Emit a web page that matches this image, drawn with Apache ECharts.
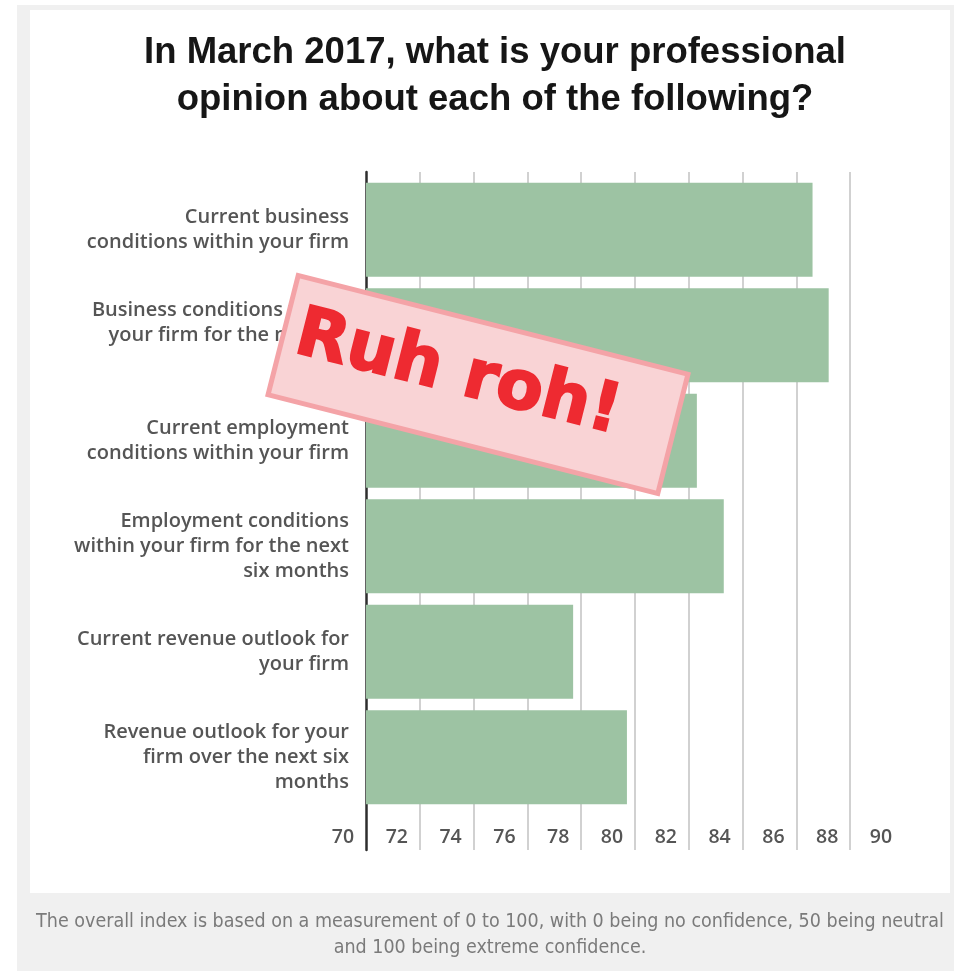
<!DOCTYPE html>
<html>
<head>
<meta charset="utf-8">
<script src="https://cdn.jsdelivr.net/npm/echarts@6/dist/echarts.min.js"></script>
<style>
  html, body { margin: 0; padding: 0; background: #ffffff; }
  #chart { width: 954px; height: 971px; }
</style>
</head>
<body>
<div id="chart"></div>
<script>
// Survey items (top to bottom) and their confidence index scores
const categories = [
  'Current business\nconditions within your firm',
  'Business conditions within\nyour firm for the next six\nmonths',
  'Current employment\nconditions within your firm',
  'Employment conditions\nwithin your firm for the next\nsix months',
  'Current revenue outlook for\nyour firm',
  'Revenue outlook for your\nfirm over the next six\nmonths'
];
const scores = [86.6, 87.2, 82.3, 83.3, 77.7, 79.7];

// Horizontal scale
const axisMin = 70;
const axisMax = 90;
const axisStep = 2;

const titleText = 'In March 2017, what is your professional\nopinion about each of the following?';
const footnoteText = 'The overall index is based on a measurement of 0 to 100, with 0 being no confidence, 50 being neutral\nand 100 being extreme confidence.';
const stampText = 'Ruh roh!';

const chart = echarts.init(document.getElementById('chart'), null, { renderer: 'canvas' });

const labelFont = { fontFamily: 'Open Sans', fontWeight: 600, fontSize: 20, color: '#555555' };

chart.setOption({
  animation: false,
  backgroundColor: '#ffffff',
  title: {
    text: titleText,
    left: 490,
    top: 24,
    textAlign: 'center',
    textStyle: {
      fontFamily: 'Liberation Sans',
      fontWeight: 'bold',
      fontSize: 36.5,
      lineHeight: 47,
      color: '#161616'
    }
  },
  grid: [
    // bars
    { left: 366, right: 50, top: 177, bottom: 161 },
    // frame: vertical grid lines, axis line and tick labels
    { left: 366, right: 50, top: 172, bottom: 121 }
  ],
  xAxis: [
    {
      gridIndex: 0, type: 'value', min: axisMin, max: axisMax, interval: axisStep,
      show: false, splitLine: { show: false }
    },
    {
      gridIndex: 1, type: 'value', min: axisMin, max: axisMax, interval: axisStep,
      axisLine: { show: false },
      axisTick: { show: false },
      splitLine: {
        show: true, showMinLine: false, showMaxLine: false,
        lineStyle: { color: '#c6c6c6', width: 1.6 }
      },
      axisLabel: Object.assign({
        inside: true,
        margin: 3,
        showMinLabel: true,
        showMaxLabel: true,
        align: 'center',
        padding: [0, 46, 0, 0]
      }, labelFont, { fontSize: 19.5 })
    }
  ],
  yAxis: [
    {
      gridIndex: 0, type: 'category', data: categories, inverse: true,
      axisLine: { show: false },
      axisTick: { show: false },
      splitLine: { show: false },
      axisLabel: Object.assign({ margin: 17, align: 'right', lineHeight: 25 }, labelFont)
    },
    {
      gridIndex: 1, type: 'value', min: 0, max: 1,
      axisLine: { show: true, lineStyle: { color: '#2e2e2e', width: 2.5 } },
      axisTick: { show: false },
      axisLabel: { show: false },
      splitLine: { show: false }
    }
  ],
  series: [
    {
      type: 'bar',
      xAxisIndex: 0,
      yAxisIndex: 0,
      data: scores,
      barCategoryGap: '11%',
      itemStyle: { color: '#9dc3a3' }
    }
  ],
  graphic: [
    // page surround and card
    { type: 'rect', z: -10, silent: true, shape: { x: 17, y: 5, width: 937, height: 966 }, style: { fill: '#f0f0f0' } },
    { type: 'rect', z: -9, silent: true, shape: { x: 30, y: 10, width: 920, height: 883 }, style: { fill: '#ffffff' } },
    {
      type: 'text', z: 5, silent: true,
      x: 490, y: 935,
      style: {
        text: footnoteText,
        textAlign: 'center', textVerticalAlign: 'middle',
        fontFamily: 'DejaVu Sans Condensed', fontSize: 19.5, lineHeight: 26,
        fill: '#7a7a7a'
      }
    },
    // stamp
    {
      type: 'group', z: 100,
      x: 478, y: 384.5,
      rotation: -14.2 * Math.PI / 180,
      children: [
        {
          type: 'rect', z: 100,
          shape: { x: -201, y: -61.5, width: 402, height: 123 },
          style: { fill: '#f9d3d5', stroke: '#f4a3a7', lineWidth: 5 }
        },
        {
          type: 'text', z: 101,
          x: -22, y: -4,
          style: {
            text: stampText,
            textAlign: 'center', textVerticalAlign: 'middle',
            fontFamily: 'DejaVu Sans', fontWeight: 'bold', fontSize: 68,
            fill: '#ee2a31', stroke: '#ee2a31', lineWidth: 2
          }
        }
      ]
    }
  ]
});
</script>
</body>
</html>
